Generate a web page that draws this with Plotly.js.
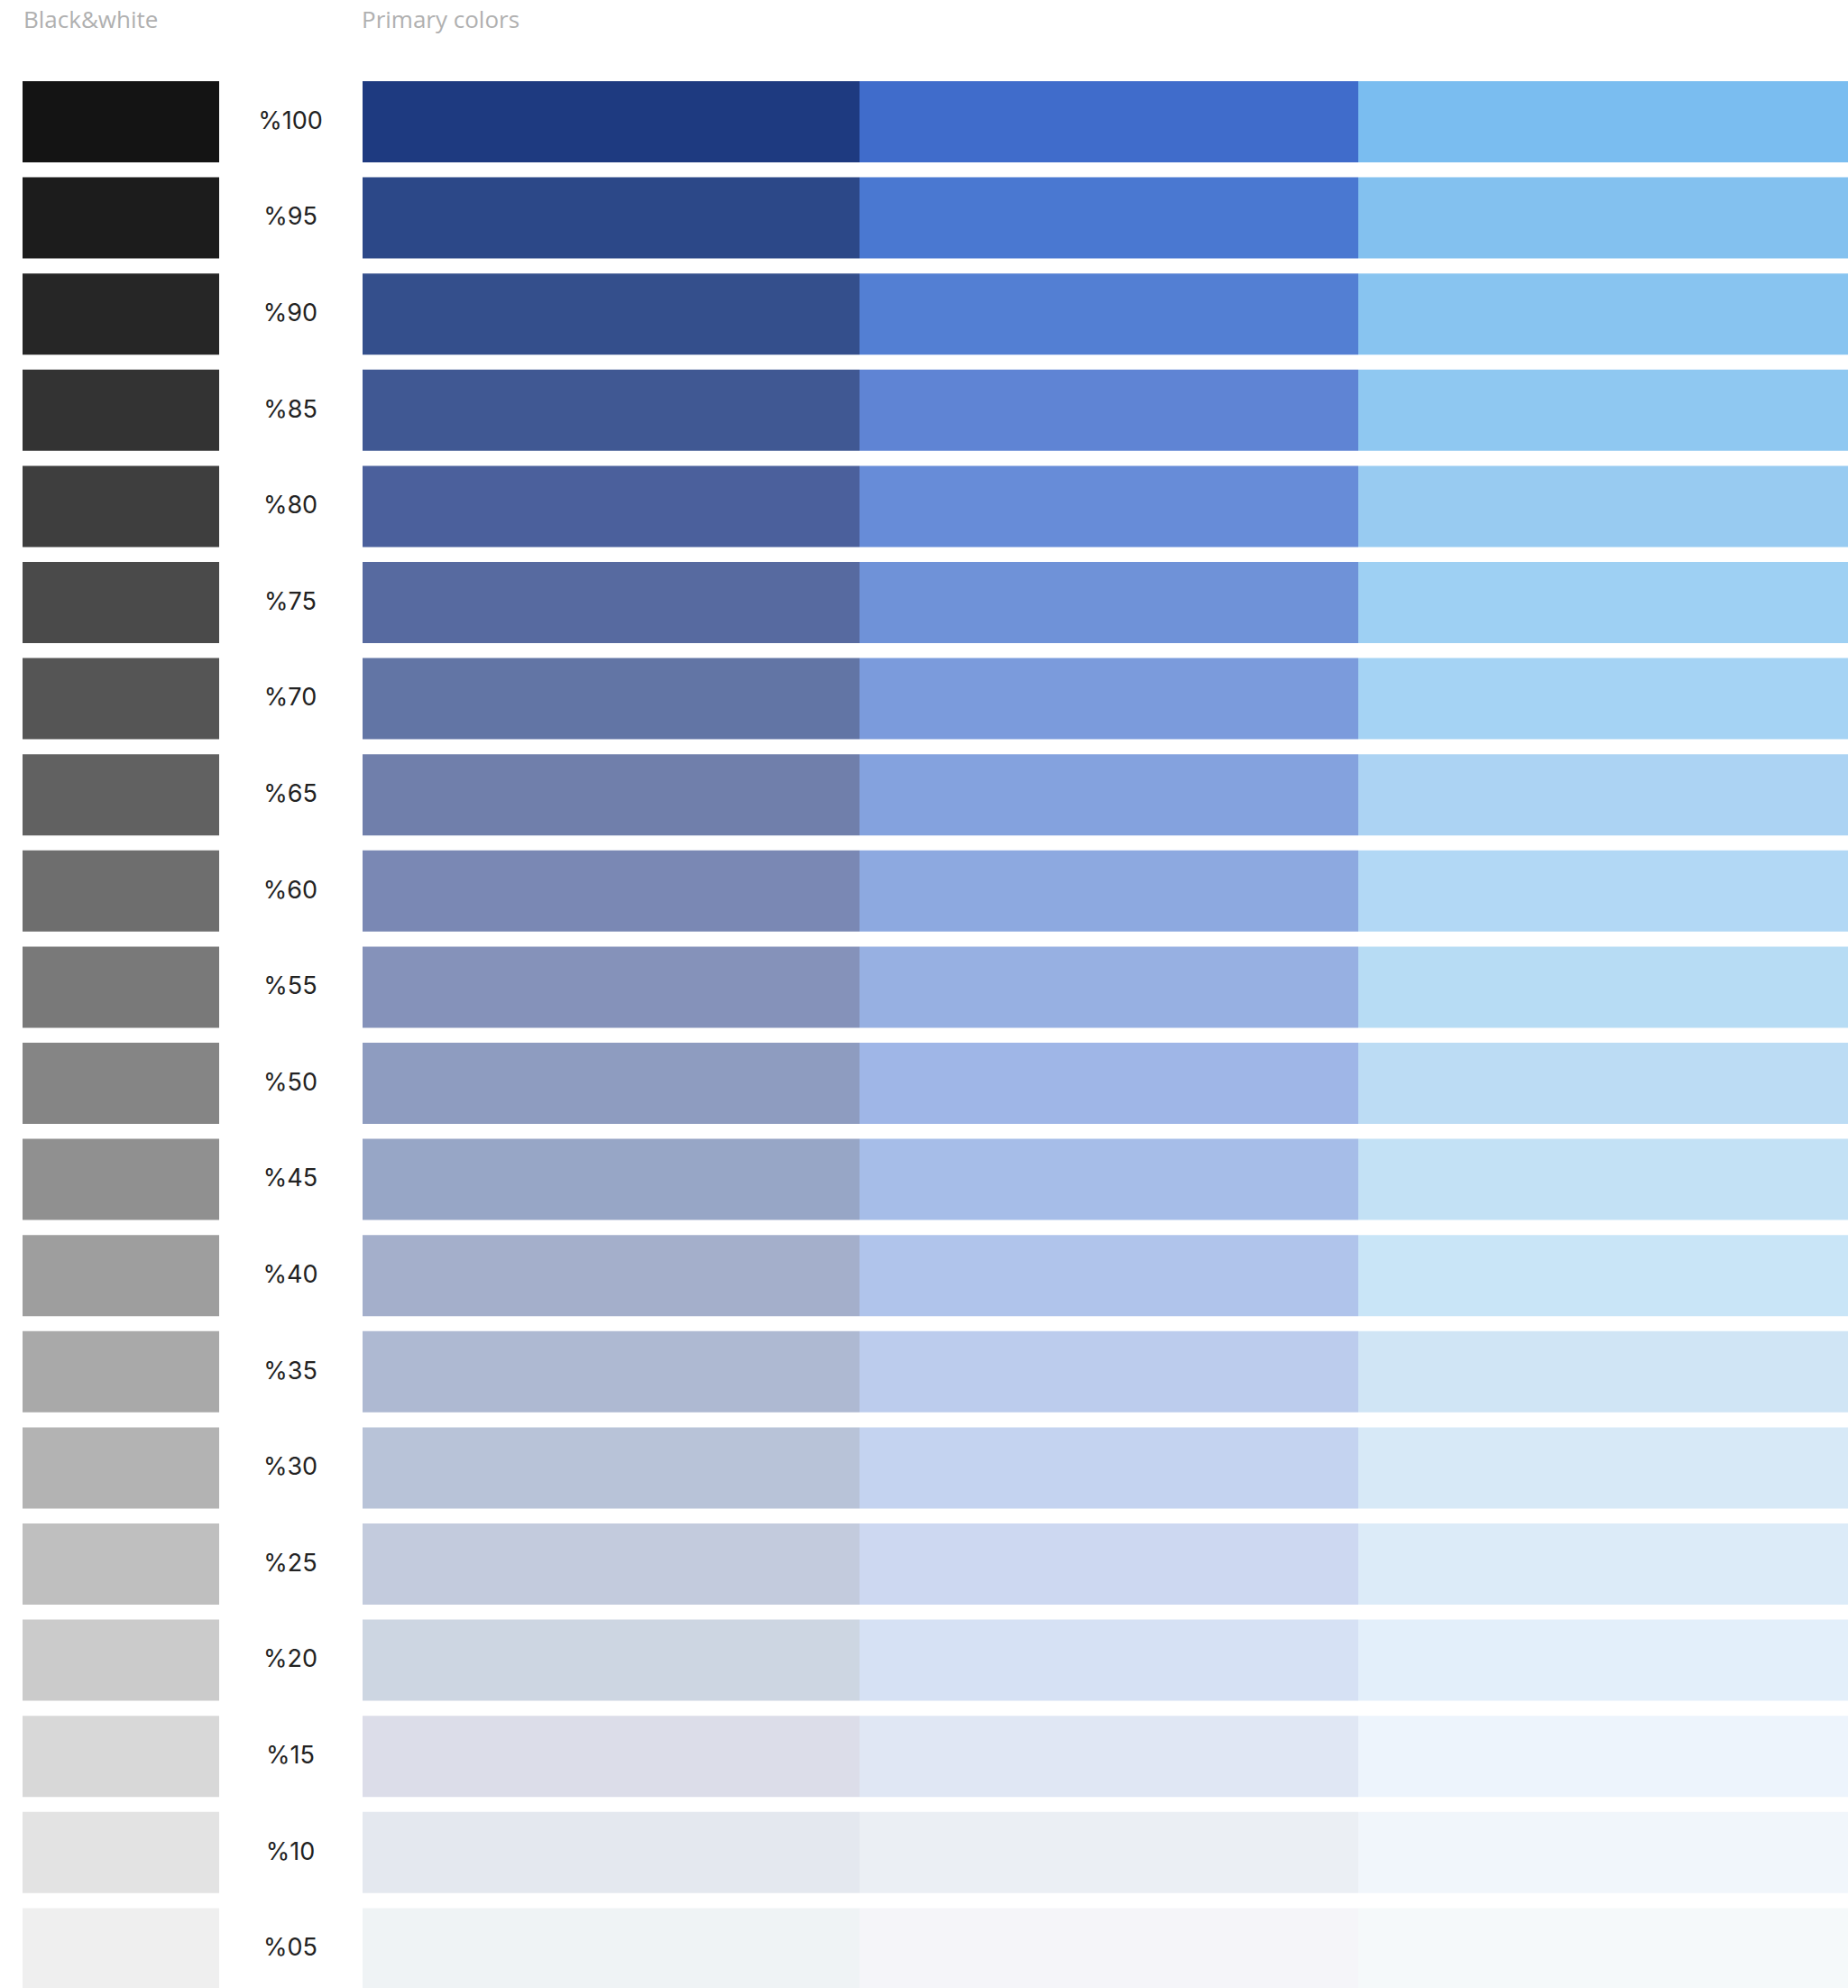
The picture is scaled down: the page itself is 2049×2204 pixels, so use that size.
<!DOCTYPE html>
<html>
<head>
<meta charset="utf-8">
<script src="https://cdn.plot.ly/plotly-3.0.1.min.js"></script>
<style>
  html, body { margin: 0; padding: 0; background: #ffffff; }
  #chart { width: 2049px; height: 2204px; }
</style>
</head>
<body>
<div id="chart"></div>
<script>
// ---- data ----
const levels = ["%100","%95","%90","%85","%80","%75","%70","%65","%60","%55","%50","%45","%40","%35","%30","%25","%20","%15","%10","%05"];

const grayColors = ["#141414","#1c1c1c","#262626","#333333","#3e3e3e","#4a4a4a","#555555","#616161","#6e6e6e","#797979",
                    "#858585","#909090","#9e9e9e","#a9a9a9","#b3b3b3","#bfbfbf","#cbcbcb","#d8d8d8","#e3e3e3","#efefef"];

const navyColors = ["#1e3a80","#2c4888","#344f8c","#405893","#4b609c","#576aa0","#6275a5","#707fab","#7a88b4","#8592ba",
                    "#8e9cc0","#97a6c6","#a4afcb","#aeb9d2","#b8c3d8","#c3cbdd","#cdd6e2","#dcdde9","#e4e8ef","#eff3f5"];

const blueColors = ["#406ccb","#4a78d1","#537fd3","#5f84d4","#678cd8","#6f92d8","#7b9bdc","#84a2de","#8da9e0","#97b0e2",
                    "#9fb6e7","#a6bde8","#b0c4eb","#bccced","#c4d3f0","#cdd8f1","#d6e1f4","#e0e7f4","#ebeff4","#f5f5f9"];

const skyColors  = ["#7abdf0","#83c1ef","#88c4f0","#8fc8f1","#98cbf1","#9ed0f3","#a5d3f4","#acd3f3","#b2d8f5","#b7dcf4",
                    "#bcdcf4","#c3e1f5","#c9e5f7","#d0e5f5","#d7e9f7","#dcebf8","#e3effa","#edf4fc","#f1f6fb","#f5f9fa"];

const sectionTitles = ["Black&white", "Primary colors"];

// ---- layout constants (pixel space of the axes) ----
const W = 2049, H = 2204;
const rowIdx = levels.map((_, i) => i);
const pitch = 106.6, firstCenter = 135, rowH = 90;

const columns = [
  {start: 25,   width: 218, colors: grayColors},
  {start: 402,  width: 551, colors: navyColors},
  {start: 953,  width: 553, colors: blueColors},
  {start: 1506, width: 543, colors: skyColors}
];

const traces = columns.map(c => ({
  type: 'bar',
  orientation: 'h',
  y: rowIdx,
  x: rowIdx.map(() => c.width),
  base: rowIdx.map(() => c.start),
  width: rowH / pitch,
  marker: {color: c.colors, line: {width: 0}},
  hoverinfo: 'skip',
  showlegend: false
}));

const labelShift = 1 / pitch;
traces.push({
  type: 'scatter',
  mode: 'text',
  x: rowIdx.map(() => 322),
  y: rowIdx.map(i => i + labelShift),
  text: levels,
  textposition: 'middle center',
  textfont: {family: 'Inter, "Open Sans", sans-serif', size: 27, color: '#222222'},
  hoverinfo: 'skip',
  showlegend: false
});

const yTop = -firstCenter / pitch;
const yBottom = (H - firstCenter) / pitch;

const layout = {
  width: W, height: H,
  margin: {l: 0, r: 0, t: 0, b: 0, pad: 0},
  paper_bgcolor: '#ffffff',
  plot_bgcolor: '#ffffff',
  barmode: 'overlay',
  xaxis: {range: [0, W], visible: false, fixedrange: true},
  yaxis: {range: [yBottom, yTop], visible: false, fixedrange: true},
  annotations: [
    {text: sectionTitles[0], xref: 'x', yref: 'paper', x: 24, y: 1 - 21 / H,
     xanchor: 'left', yanchor: 'middle', showarrow: false,
     font: {family: '"Open Sans", sans-serif', size: 26, color: '#b0b0b0'}},
    {text: sectionTitles[1], xref: 'x', yref: 'paper', x: 399, y: 1 - 21 / H,
     xanchor: 'left', yanchor: 'middle', showarrow: false,
     font: {family: '"Open Sans", sans-serif', size: 26, color: '#b0b0b0'}}
  ],
  hovermode: false
};

Plotly.newPlot('chart', traces, layout, {displayModeBar: false, staticPlot: true});
</script>
</body>
</html>
